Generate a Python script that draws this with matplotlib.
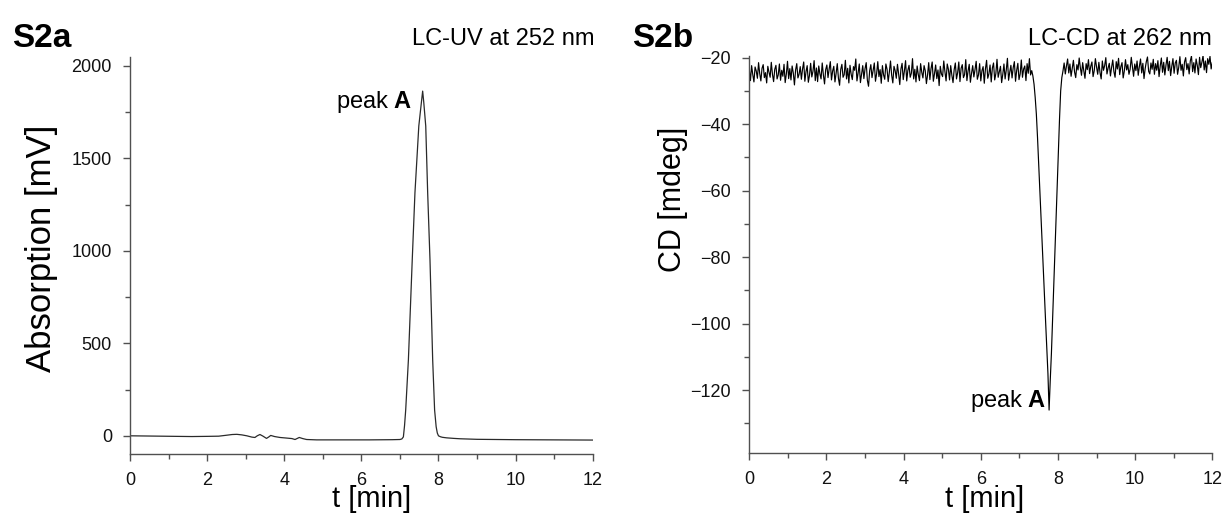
import numpy as np
import matplotlib
matplotlib.use("Agg")
import matplotlib.pyplot as plt
from matplotlib.ticker import MultipleLocator

plt.rcParams["font.family"] = ["Liberation Sans", "DejaVu Sans"]
plt.rcParams["mathtext.fontset"] = "custom"
plt.rcParams["mathtext.rm"] = "Liberation Sans"
plt.rcParams["mathtext.bf"] = "Liberation Sans:bold"

# ---- LC-UV chromatogram (252 nm) ----
uv_time = [0.0, 0.4, 0.8, 1.2, 1.6, 2.0, 2.3, 2.5, 2.65, 2.77, 2.9, 3.03, 3.16,
           3.24, 3.30, 3.37, 3.45, 3.54, 3.60, 3.65, 3.75, 3.89, 4.05, 4.20,
           4.28, 4.34, 4.39, 4.48, 4.58, 4.84, 5.5, 6.2, 6.8, 7.00, 7.05, 7.09,
           7.12, 7.15, 7.22, 7.32, 7.39, 7.45, 7.49, 7.53, 7.56, 7.59, 7.62,
           7.67, 7.72, 7.78, 7.85, 7.90, 7.94, 7.97, 8.00, 8.05, 8.10, 8.21,
           8.40, 8.56, 9.0, 10.0, 11.0, 12.0]
uv_mv = [0, -1, -2, -3, -4, -3, -2, 3, 7, 8, 5, 0, -7,
         -9, 0, 7, -2, -14, -6, 2, -4, -9, -12, -15,
         -20, -14, -9, -15, -20, -22, -22, -22, -21, -20, -17, -6,
         55, 139, 410, 952, 1314, 1530, 1675, 1751, 1808, 1864, 1800,
         1675, 1314, 952, 410, 139, 49, 15, 0, -5, -8, -11,
         -14, -16, -19, -21, -22, -23]

# ---- LC-CD chromatogram (262 nm), sampled every 0.03 min from 0 to 12 min ----
cd_t_start = 0.0
cd_t_step = 0.03
cd_mdeg = [
    -23.6, -26.9, -22.4, -25.1, -27.3, -22.8, -24.0, -26.2, -21.5, -24.8, -27.0, -23.2, -22.1, -26.0, -24.5,
    -27.6, -22.6, -24.4, -25.9, -21.4, -25.0, -27.2, -23.5, -22.3, -26.4, -25.2, -21.9, -26.8, -23.8, -25.6,
    -22.0, -27.5, -24.9, -21.1, -26.3, -23.3, -26.7, -22.5, -24.6, -28.2, -23.7, -21.8, -26.1, -25.0, -22.7,
    -26.5, -23.4, -21.3, -27.1, -24.2, -22.4, -27.4, -25.3, -21.7, -25.8, -24.1, -20.9, -26.9, -23.1, -27.2,
    -22.5, -24.9, -26.4, -21.6, -25.2, -27.9, -23.6, -22.2, -26.0, -23.4, -21.2, -26.7, -24.0, -22.6, -27.3,
    -24.7, -21.8, -26.2, -28.3, -23.5, -22.0, -25.9, -25.1, -20.8, -26.4, -23.2, -27.6, -22.3, -25.0, -26.6,
    -22.7, -23.8, -20.4, -27.0, -24.6, -21.9, -27.5, -24.9, -22.4, -26.3, -23.3, -21.5, -26.8, -28.6, -23.9,
    -22.1, -26.0, -23.7, -21.6, -27.1, -24.8, -21.2, -25.7, -23.6, -27.7, -22.4, -25.2, -26.5, -21.9, -23.5,
    -27.2, -24.3, -21.0, -25.3, -27.6, -22.6, -23.9, -26.2, -22.0, -24.9, -28.1, -23.4, -21.7, -26.6, -24.0,
    -20.9, -27.0, -23.8, -22.3, -25.9, -24.7, -20.3, -26.4, -23.5, -27.3, -22.5, -25.1, -26.9, -21.8, -24.4,
    -26.1, -22.4, -23.9, -27.8, -25.2, -21.5, -26.6, -23.3, -21.3, -27.1, -24.8, -22.2, -26.3, -23.7, -28.4,
    -22.6, -24.9, -25.7, -21.0, -24.2, -27.0, -21.9, -23.5, -26.7, -22.4, -25.3, -27.5, -23.6, -21.6, -26.4,
    -24.5, -21.3, -27.2, -23.2, -22.1, -26.0, -25.1, -20.6, -26.9, -24.0, -22.0, -27.4, -24.7, -22.4, -25.8,
    -23.6, -21.1, -26.5, -25.2, -21.8, -27.0, -23.9, -22.7, -27.7, -23.4, -20.8, -26.2, -24.9, -22.2, -27.3,
    -23.1, -21.6, -26.7, -24.8, -20.5, -25.9, -24.2, -22.6, -27.5, -25.0, -21.9, -26.4, -23.7, -20.2, -26.8,
    -24.4, -22.3, -26.1, -23.0, -21.2, -27.1, -23.8, -21.7, -26.6, -24.9, -20.7, -25.9, -23.4, -22.5, -26.9,
    -21.8, -24.7, -20.3, -25.2, -23.9,
    # peak A (negative band)
    -25.5, -28.0, -32.0, -37.0, -44.0, -52.0, -60.0, -68.0, -76.0, -84.0, -92.0, -99.5, -107.0, -115.0,
    -126.0, -117.0, -109.0, -99.0, -89.0, -79.0, -68.5, -58.5, -48.5, -38.5, -30.0, -26.0, -24.0,
    -21.6, -24.9, -22.5, -20.4, -24.6, -21.9, -25.6, -23.2, -20.8, -24.3, -26.0, -22.1, -23.7, -20.1, -23.0,
    -25.3, -21.5, -24.0, -26.2, -21.8, -23.6, -20.6, -24.8, -22.6, -21.3, -25.7, -23.9, -20.3, -22.8, -25.0,
    -21.4, -24.5, -26.4, -21.0, -23.8, -22.4, -20.0, -24.9, -23.1, -21.7, -25.5, -22.9, -20.7, -24.2, -25.9,
    -21.2, -23.4, -20.2, -25.1, -22.7, -21.5, -26.1, -24.0, -20.6, -23.7, -22.1, -25.0, -23.5, -19.9, -22.8,
    -25.6, -21.9, -23.9, -21.0, -25.3, -22.6, -20.4, -24.6, -21.7, -26.3, -23.3, -21.2, -19.8, -24.1, -24.9,
    -21.6, -23.5, -20.5, -25.0, -21.8, -23.8, -20.9, -25.7, -22.5, -20.1, -24.4, -21.4, -25.2, -22.2, -19.9,
    -23.9, -21.1, -25.4, -22.6, -20.3, -24.7, -21.6, -20.8, -25.0, -22.9, -19.7, -23.8, -22.0, -25.5, -21.3,
    -20.0, -23.6, -21.8, -24.9, -21.0, -19.5, -24.2, -21.5, -24.6, -20.4, -22.3, -25.1, -19.9, -23.0, -21.4,
    -19.4, -23.7, -21.0, -24.5, -20.3, -22.0, -19.6, -23.4, -21.5,
]
cd_time = cd_t_start + cd_t_step * np.arange(len(cd_mdeg))

x_ticks = [0, 2, 4, 6, 8, 10, 12]
uv_ticks = [0, 500, 1000, 1500, 2000]
cd_ticks = [-120, -100, -80, -60, -40, -20]

W, H = 1228, 513
fig = plt.figure(figsize=(W / 100, H / 100), dpi=100)


def px_axes(x0, y0, x1, y1):
    return fig.add_axes([x0 / W, 1 - y1 / H, (x1 - x0) / W, (y1 - y0) / H])


def style(ax):
    for side in ("top", "right"):
        ax.spines[side].set_visible(False)
    for side in ("left", "bottom"):
        ax.spines[side].set_color("#505050")
        ax.spines[side].set_linewidth(1.0)
    ax.tick_params(which="major", direction="out", length=5, width=1,
                   color="#505050", labelsize=13, pad=8, labelcolor="#111111")
    ax.tick_params(which="minor", direction="out", length=3.5, width=1,
                   color="#505050")
    ax.set_xlim(0, 12)
    ax.set_xticks(x_ticks)
    ax.xaxis.set_minor_locator(MultipleLocator(1))


axL = px_axes(130, 56.7, 592.7, 454.3)
axR = px_axes(749.3, 56.0, 1212.3, 453.3)

# UV trace
axL.plot(uv_time, uv_mv, color="#2a2a2a", lw=0.9)
style(axL)
axL.set_ylim(-100, 2050)
axL.set_yticks(uv_ticks)
axL.yaxis.set_minor_locator(MultipleLocator(250))
axL.text(7.31, 1770, r"peak $\mathbf{A}$", ha="right", va="baseline", fontsize=17)

# CD trace
axR.plot(cd_time, cd_mdeg, color="black", lw=0.85)
style(axR)
axR.set_ylim(-139, -19.5)
axR.set_yticks(cd_ticks)
axR.yaxis.set_minor_locator(MultipleLocator(10))
axR.text(7.70, -125, r"peak $\mathbf{A}$", ha="right", va="baseline", fontsize=17)

# panel labels and headings
fig.text(12 / W, 1 - 47 / H, "S2a", fontsize=24, fontweight="bold", va="baseline")
fig.text(632 / W, 1 - 47 / H, "S2b", fontsize=24, fontweight="bold", va="baseline")
fig.text(595 / W, 1 - 45 / H, "LC-UV at 252 nm", fontsize=17, ha="right", va="baseline")
fig.text(1212 / W, 1 - 45 / H, "LC-CD at 262 nm", fontsize=17, ha="right", va="baseline")

# axis titles
fig.text(42 / W, 1 - 248 / H, "Absorption [mV]", rotation=90, ha="center", va="center", fontsize=25)
fig.text(673 / W, 1 - 199 / H, "CD [mdeg]", rotation=90, ha="center", va="center", fontsize=22)
fig.text(371.7 / W, 1 - 499 / H, "t [min]", ha="center", va="center", fontsize=21)
fig.text(985 / W, 1 - 499 / H, "t [min]", ha="center", va="center", fontsize=21)

fig.savefig("out.png", dpi=100, facecolor="white")
